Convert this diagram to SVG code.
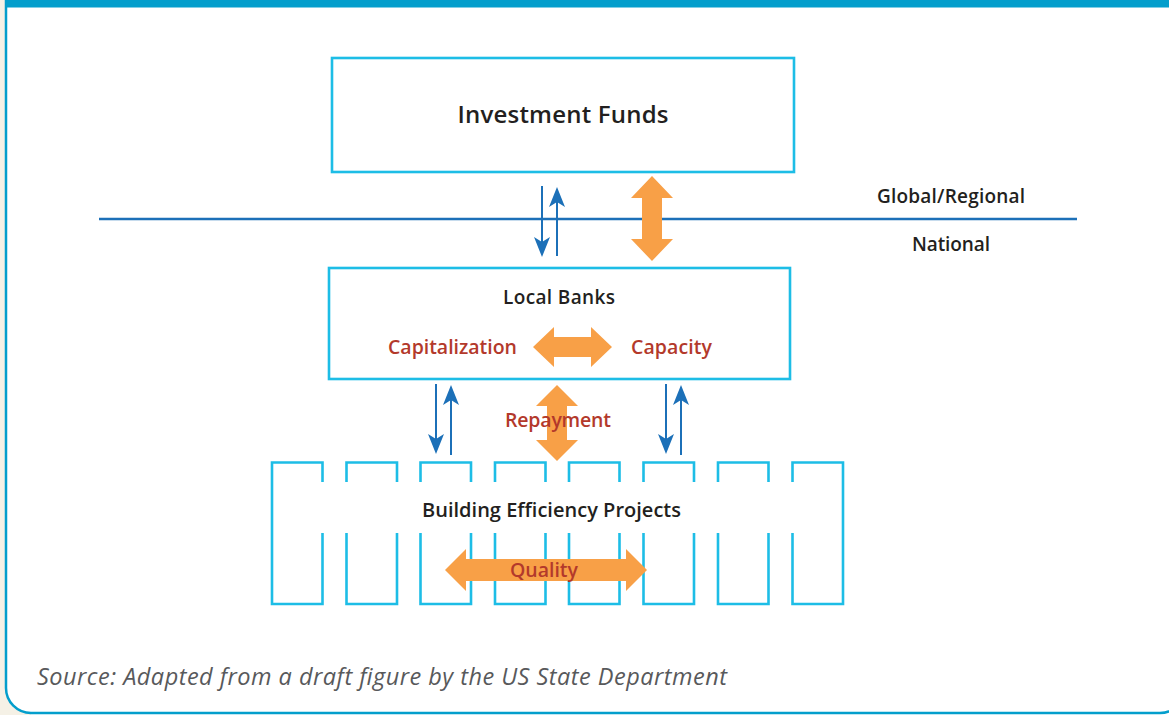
<svg xmlns="http://www.w3.org/2000/svg" width="1169" height="715" viewBox="0 0 1169 715">
<style>
.box{fill:none;stroke:#1DBDE6;stroke-width:2.6}
.bld{fill:none;stroke:#1DBDE6;stroke-width:2.6;stroke-linejoin:miter}
.blue{stroke:#1C70B8;stroke-width:2;fill:none}
.orange{fill:#F8A047}
.lbl{font-family:"Open Sans","Noto Sans","Liberation Sans",sans-serif;font-weight:600;fill:#231F20;text-anchor:middle;dominant-baseline:central}
.red{font-family:"Open Sans","Noto Sans","Liberation Sans",sans-serif;font-weight:600;fill:#B3392B;text-anchor:middle;dominant-baseline:central;font-size:19.5px}
.src{font-family:"Open Sans","Noto Sans","Liberation Sans",sans-serif;font-style:italic;fill:#58595B;font-size:23.5px}
</style>
<defs>
<marker id="bh" markerUnits="userSpaceOnUse" markerWidth="20" markerHeight="16" refX="5" refY="8" orient="auto">
<path d="M0,0 L20,8 L0,16 L5,8 z" fill="#1C70B8"/>
</marker>
</defs>
<g id="frame">
<rect x="0" y="0" width="1169" height="715" fill="#FFFFFF"/>
<rect x="0" y="0" width="6" height="715" fill="#F5F1E6"/>
<path d="M0,688 L6,688 A25,25 0 0 0 31,713 L31,715 L0,715 z" fill="#F5F1E6"/>
<path d="M6,0 V688 A25,25 0 0 0 31,713 H1160 A25,25 0 0 0 1185,688" fill="none" stroke="#039ECC" stroke-width="2.5"/>
<rect x="5" y="0" width="1164" height="7.5" fill="#039ECC"/>
</g>
<g id="divider">
<line x1="99" y1="219" x2="1077" y2="219" stroke="#1C70B8" stroke-width="2.5"/>
<text class="lbl" x="951" y="196" font-size="19" textLength="148">Global/Regional</text>
<text class="lbl" x="951" y="244" font-size="19" textLength="78">National</text>
</g>
<g id="investment-funds">
<rect class="box" x="332" y="58" width="462" height="114"/>
<text class="lbl" x="563" y="113" font-size="24" font-weight="500" textLength="211">Investment Funds</text>
</g>
<g id="local-banks">
<rect class="box" x="329" y="268" width="461" height="111"/>
<text class="lbl" x="559" y="297" font-size="19" textLength="112">Local Banks</text>
<text class="red" x="452.5" y="346" textLength="129">Capitalization</text>
<text class="red" x="671.5" y="346" textLength="81">Capacity</text>
</g>
<g id="building-projects">
<path class="bld" d="M322.5,482 V462.5 H272 V604 H322.5 V533"/>
<path class="bld" d="M346.5,482 V462.5 H397 V482 M346.5,533 V604 H397 V533"/>
<path class="bld" d="M420.5,482 V462.5 H471 V482 M420.5,533 V604 H471 V533"/>
<path class="bld" d="M495,482 V462.5 H545.5 V482 M495,533 V604 H545.5 V533"/>
<path class="bld" d="M569,482 V462.5 H619.5 V482 M569,533 V604 H619.5 V533"/>
<path class="bld" d="M643.5,482 V462.5 H694 V482 M643.5,533 V604 H694 V533"/>
<path class="bld" d="M718,482 V462.5 H768.5 V482 M718,533 V604 H768.5 V533"/>
<path class="bld" d="M792.5,482 V462.5 H843 V604 H792.5 V533"/>
<text class="lbl" x="551.5" y="509" font-size="20" textLength="259">Building Efficiency Projects</text>
</g>
<g id="connectors">
<line class="blue" x1="542" y1="186" x2="542" y2="242" marker-end="url(#bh)"/>
<line class="blue" x1="557" y1="256" x2="557" y2="202" marker-end="url(#bh)"/>
<line class="blue" x1="436" y1="384" x2="436" y2="439" marker-end="url(#bh)"/>
<line class="blue" x1="451" y1="455" x2="451" y2="400" marker-end="url(#bh)"/>
<line class="blue" x1="666" y1="384" x2="666" y2="439" marker-end="url(#bh)"/>
<line class="blue" x1="681" y1="455" x2="681" y2="400" marker-end="url(#bh)"/>
<path class="orange" d="M652,176 L673,198 L662,198 L662,239 L673,239 L652,261 L631,239 L642,239 L642,198 L631,198 z"/>
<path class="orange" d="M533,347 L554,327 L554,337 L591,337 L591,327 L612,347 L591,367 L591,357 L554,357 L554,367 z"/>
<path class="orange" d="M557,385 L578,406 L567,406 L567,440 L578,440 L557,461 L536,440 L547,440 L547,406 L536,406 z"/>
<path class="orange" d="M445,570 L466,549 L466,559 L626,559 L626,549 L647,570 L626,591 L626,581 L466,581 L466,591 z"/>
</g>
<g id="arrow-labels">
<text class="red" x="558" y="419" textLength="106">Repayment</text>
<text class="red" x="544" y="569" textLength="68">Quality</text>
</g>
<text class="src" x="37" y="685" textLength="690">Source: Adapted from a draft figure by the US State Department</text>
</svg>
